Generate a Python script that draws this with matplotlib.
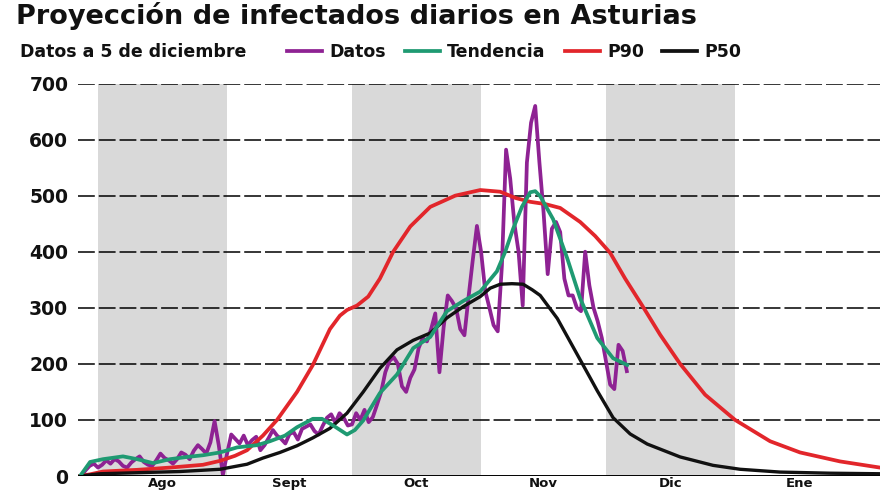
import matplotlib
matplotlib.use("Agg")
import matplotlib.pyplot as plt
from matplotlib.lines import Line2D

# ---------------- data ----------------
title = "Proyección de infectados diarios en Asturias"
subtitle = "Datos a 5 de diciembre"
series_names = ["Datos", "Tendencia", "P90", "P50"]
month_labels = ["Ago", "Sept", "Oct", "Nov", "Dic", "Ene"]
month_lengths = [31, 30, 31, 30, 31, 31]
y_ticks = [0, 100, 200, 300, 400, 500, 600, 700]

# daily cases, first value = day -4 (days counted from 1 August)
datos_start = -4
datos = [0, 10, 18, 22, 15, 20, 28, 22, 30, 26,
         18, 15, 24, 30, 35, 25, 20, 18, 28, 40,
         32, 28, 22, 30, 42, 38, 30, 45, 55, 48,
         40, 60, 98, 55, 2, 40, 74, 66, 58, 72,
         55, 64, 70, 46, 55, 68, 82, 72, 66, 58,
         75, 78, 65, 84, 88, 92, 80, 74, 90, 104,
         110, 95, 112, 104, 90, 92, 112, 100, 118, 96,
         105, 127, 150, 185, 205, 212, 200, 160, 150, 175,
         190, 228, 246, 240, 262, 290, 185, 265, 322, 312,
         299, 262, 251, 320, 385, 446, 400, 330, 300, 269,
         258, 375, 582, 530, 450, 400, 304, 559, 630, 660,
         560, 471, 360, 441, 453, 435, 352, 322, 322, 300,
         294, 400, 340, 300, 276, 246, 205, 163, 155, 234,
         223, 187]

tend_days = [-4.3, -1.9, 1.2, 6, 9.4, 13.2, 17.3, 21.4, 25.2, 29.3,
             33.4, 38.2, 41.3, 44.9, 47.8, 51.6, 53.8, 56.9, 59.8, 61.7,
             63.7, 67.7, 71.8, 75.7, 79.8, 83.8, 87.7, 91.8, 95.8, 97.8,
             99.7, 101.8, 103.8, 105, 106.2, 109.3, 112.7, 115.8, 119.9, 123.7,
             127.1]
tend_vals = [0, 25, 30, 35, 30, 23, 30, 34, 37, 42,
             51, 55, 62, 72, 87, 102, 102, 88, 74, 82,
             99, 148, 181, 228, 248, 294, 312, 329, 365, 400,
             441, 480, 506, 508, 499, 458, 388, 317, 246, 210,
             198]

p90_days = [-4.3, -1.9, 1.2, 9.4, 17.3, 25.2, 29.3, 32.9, 35.8, 39.6,
            43, 47.8, 51.6, 55.7, 58.1, 59.8, 62.2, 64.9, 67.7, 70.9,
            75, 79.8, 85.8, 91.8, 96.6, 100.2, 103.8, 107.4, 111, 115.8,
            119.4, 123, 126.6, 130.7, 135, 139.8, 145.8, 153, 161.4, 168.6,
            178.2, 187.8]
p90_vals = [0, 3, 8, 11, 15, 20, 27, 36, 46, 72,
            100, 150, 198, 262, 286, 296, 304, 320, 352, 400,
            445, 480, 500, 510, 507, 496, 489, 485, 478, 453,
            428, 398, 352, 304, 252, 200, 145, 100, 62, 42,
            26, 15]

p50_days = [-4.3, 0.5, 10.1, 19.7, 29.3, 35.8, 39.6, 43.7, 47.8, 51.6,
            55.7, 59.8, 63.7, 67.7, 71.8, 75.7, 79.8, 83.8, 87.7, 91.8,
            94.2, 96.6, 99.4, 102.1, 104.3, 106.2, 110.3, 114.1, 118.2, 119.9,
            123.7, 127.8, 131.9, 139.8, 147.7, 154.2, 163.8, 175.8, 187.8]
p50_vals = [0, 4, 6, 8, 12, 21, 32, 42, 54, 68,
            85, 112, 150, 192, 225, 242, 255, 282, 302, 320,
            335, 342, 343, 342, 332, 322, 281, 230, 175, 152,
            104, 75, 57, 34, 19, 12, 7, 5, 4]

# ---------------- styling ----------------
C_DATOS = "#8e2293"
C_TEND = "#1f9a72"
C_P90 = "#e2262b"
C_P50 = "#111111"
C_BAND = "#d9d9d9"
C_TEXT = "#111111"

W, H = 880, 495
fig = plt.figure(figsize=(W / 100, H / 100), dpi=100)
fig.patch.set_facecolor("white")

ax_left, ax_right, ax_bottom, ax_top = 78, 880, 476, 83.5
ax = fig.add_axes([ax_left / W, (H - ax_bottom) / H,
                   (ax_right - ax_left) / W, (ax_bottom - ax_top) / H])
ax.set_xlim(-4.8, 187.8)
ax.set_ylim(0, 700)
for s in ax.spines.values():
    s.set_visible(False)

# month boundaries
starts = [0]
for L in month_lengths:
    starts.append(starts[-1] + L)
for i in range(0, len(month_lengths), 2):
    ax.axvspan(starts[i], starts[i + 1], color=C_BAND, lw=0, zorder=0)

# grid
for yv in y_ticks[1:]:
    ax.axhline(yv, color="black", lw=1.1, ls=(0, (11, 2.6)), zorder=1)
ax.axhline(0, color="black", lw=1.4, zorder=6)

datos_days = list(range(datos_start, datos_start + len(datos)))
ax.plot(datos_days, datos, color=C_DATOS, lw=2.7, zorder=3, solid_joinstyle="round")
ax.plot(p90_days, p90_vals, color=C_P90, lw=2.7, zorder=4)
ax.plot(p50_days, p50_vals, color=C_P50, lw=2.4, zorder=4)
ax.plot(tend_days, tend_vals, color=C_TEND, lw=2.7, zorder=5)

ax.set_yticks(y_ticks)
ax.set_yticklabels([str(v) for v in y_ticks], fontsize=13.5, fontweight="bold", color=C_TEXT)
mids = [(starts[i] + starts[i + 1]) / 2 for i in range(len(month_labels))]
ax.set_xticks(mids)
ax.set_xticklabels(month_labels, fontsize=9.5, fontweight="bold", color=C_TEXT)
ax.tick_params(axis="y", length=0, pad=7)
ax.tick_params(axis="x", length=0, pad=1)

# titles
fig.text(16 / W, 1 - 24 / H, title, fontsize=19.5, fontweight="bold",
         color=C_TEXT, va="baseline", ha="left")
fig.text(20 / W, 1 - 57 / H, subtitle, fontsize=12.5, fontweight="bold",
         color=C_TEXT, va="baseline", ha="left")

# legend
leg_items = [(287, 322, C_DATOS, series_names[0]),
             (405, 440, C_TEND, series_names[1]),
             (565, 600, C_P90, series_names[2]),
             (662, 697, C_P50, series_names[3])]
for x0, x1, col, lab in leg_items:
    fig.add_artist(Line2D([x0 / W, x1 / W], [1 - 51 / H, 1 - 51 / H],
                          color=col, lw=2.7, transform=fig.transFigure))
    fig.text((x1 + 7) / W, 1 - 57 / H, lab, fontsize=12.5, fontweight="bold",
             color=C_TEXT, va="baseline", ha="left")

fig.savefig("out.png", dpi=100)
